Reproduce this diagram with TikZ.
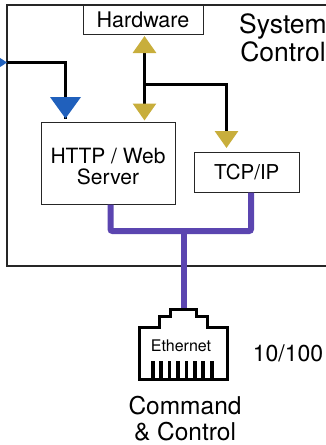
\documentclass[tikz,border=0pt]{standalone}
\usepackage{fontspec}
\setmainfont{TeX Gyre Heros}
\usetikzlibrary{arrows.meta}
\definecolor{linkgold}{HTML}{C8AE3C}
\definecolor{linkblue}{HTML}{2060BC}
\definecolor{linkpurple}{HTML}{5B45B0}
\tikzset{
	block/.style={draw=black!85, line width=.9pt, fill=white, inner sep=0pt, align=center},
	label/.style={inner sep=0pt, align=center, text=black},
	wire/.style={draw=black, line width=3pt},
	goldtip/.style={-{Triangle[length=17pt, width=23pt, color=linkgold]}},
	bus/.style={draw=linkpurple, line width=6pt, rounded corners=2pt},
}
\begin{document}
\begin{tikzpicture}[x=1pt, y=-1pt]
	\useasboundingbox (0, 0) rectangle (326, 445);
	\clip (0, 0) rectangle (326, 445);
		\draw[line width=1.2pt, draw=black!85](7, 5) rectangle (340, 266);

		\node[block, minimum width=120pt, minimum height=29pt, font=\fontsize{21.5}{24}\selectfont] (hardware) at(143, 20){Hardware};
		\node[block, minimum width=134pt, minimum height=81.5pt] (http) at(108, 163.5){};
		\node[label, font=\fontsize{21}{21.5}\selectfont] (httptext) at(108, 166.5){HTTP / Web\\ Server};
		\node[block, minimum width=104.5pt, minimum height=40pt, font=\fontsize{20.5}{22}\selectfont] (tcp) at(246.8, 172){TCP/IP};

		\node[label, font=\fontsize{26.5}{28.5}\selectfont] (system) at(283, 38){System\\ Control};
		\node[label, font=\fontsize{23}{25}\selectfont] (speed) at(288, 353){10/100};
		\node[label, font=\fontsize{24.5}{25.5}\selectfont] (command) at(185, 418.5){Command\\ \& Control};
		\node[label, font=\fontsize{16}{18}\selectfont] (ethernet) at(181, 345.5){Ethernet};

		% control lines
		\coordinate (inturn) at(65.5, 62.5);
		\coordinate (intip) at(65.5, 118.5);
		\draw[wire](7, 62.5) -- (inturn) -- (intip);
		\fill[linkblue](-16, 47.5) -- (7, 62.5) -- (-16, 77.5) -- cycle;
		\fill[linkblue](50, 97) -- (81, 97) -- (intip) -- cycle;

		\coordinate (branch) at(144.5, 84);
		\coordinate (hwtip) at(144.5, 36);
		\coordinate (webtip) at(144.5, 120.5);
		\coordinate (tcpturn) at(226.5, 84);
		\coordinate (tcptip) at(226.5, 148);
		\draw[wire, goldtip](branch) -- (hwtip);
		\draw[wire, goldtip](branch) -- (webtip);
		\draw[wire, goldtip](branch) -- (tcpturn) -- (tcptip);

		% ethernet bus
		\coordinate (webdrop) at(110.5, 204.5);
		\coordinate (tcpdrop) at(251, 192.5);
		\coordinate (join) at(183.5, 231);
		\coordinate (plugtop) at(183.5, 309);
		\draw[bus](webdrop) |- (join) -| (tcpdrop);
		\draw[bus](join) -- (plugtop);

		% plug
		\draw[line width=3pt, draw=black, miter limit=10](139.5, 379) -- (139.5, 327.7) -- (159.5, 327.7) -- (159.5, 316) -- (170, 316) -- (170, 309) -- (196, 309) -- (196, 316) -- (207.3, 316) -- (207.3, 327.7) -- (227.3, 327.7) -- (227.3, 379) -- cycle;
		\foreach \pin in {0, ..., 7}
			\fill (152.7 + \pin*8.43 - 1.8, 360.7) rectangle (152.7 + \pin*8.43 + 1.8, 379);
\end{tikzpicture}
\end{document}
